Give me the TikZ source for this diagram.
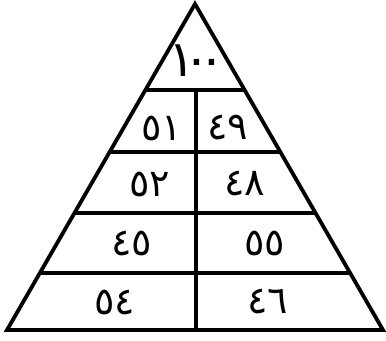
\documentclass[tikz,border=0pt]{standalone}
\usepackage{fontspec}
\newfontfamily\arabicfont[Script=Arabic]{DejaVu Sans}
\usetikzlibrary{calc}
\begin{document}
\begin{tikzpicture}[x=0.5pt,y=-0.5pt,
  edge/.style={line width=1.9pt},
  num/.style={font=\arabicfont\fontsize{19}{19}\selectfont, inner sep=0pt},
  topnum/.style={font=\arabicfont\fontsize{25}{25}\selectfont, inner sep=0pt}]
\useasboundingbox (0,0) rectangle (386,341);
\coordinate (A) at (195,4);
\coordinate (BL) at (7,330);
\coordinate (BR) at (383,330);
\draw[edge] (A) -- (BL) -- (BR) -- cycle;
\foreach \t/\n in {0.2638/1,0.4540/2,0.6411/3,0.8252/4}{
  \coordinate (L\n) at ($(A)!\t!(BL)$);
  \coordinate (R\n) at ($(A)!\t!(BR)$);
  \draw[edge] (L\n) -- (R\n);
}
\coordinate (Dtop) at (196,90);
\coordinate (Dbot) at (196,330);
\draw[edge] (Dtop) -- (Dbot);
\node[topnum] (t) at (197,61) {١\kern-6pt ٠\kern-6pt ٠};
\node[num] (a1) at (162,128) {٥١};
\node[num] (b1) at (228,128) {٤٩};
\node[num] (a2) at (150,184) {٥٢};
\node[num] (b2) at (245,184) {٤٨};
\node[num] (a3) at (132,243) {٤٥};
\node[num] (b3) at (265,243) {٥٥};
\node[num] (a4) at (115,302) {٥٤};
\node[num] (b4) at (268,302) {٤٦};
\end{tikzpicture}
\end{document}
